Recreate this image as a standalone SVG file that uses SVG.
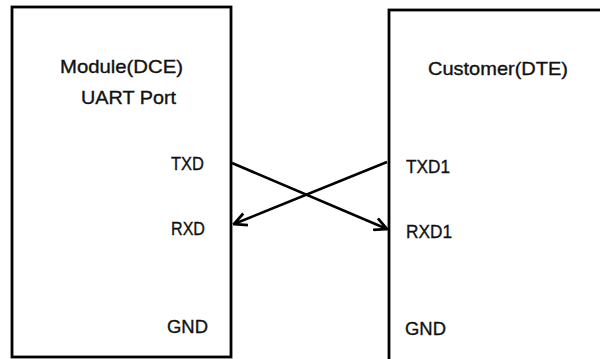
<svg xmlns="http://www.w3.org/2000/svg" width="600" height="359" viewBox="0 0 600 359">
<defs>
<style>
.box{fill:#fff;stroke:#000;stroke-width:2.8}
.t{font-family:"Liberation Sans",Arial,sans-serif;font-size:19px;fill:#111;stroke:#111;stroke-width:0.35}
.c{stroke:#000;stroke-width:2.6;fill:none}
</style>
<marker id="ah" viewBox="0 0 12 12" refX="11" refY="6" markerWidth="15" markerHeight="15" markerUnits="userSpaceOnUse" orient="auto">
<path d="M1,1 L11,6 L1,11" fill="none" stroke="#000" stroke-width="2.2"/>
</marker>
</defs>
<rect width="600" height="359" fill="#fff"/>
<g id="module">
<rect class="box" x="12" y="7" width="219" height="350"/>
<text class="t" x="60" y="73" textLength="123" lengthAdjust="spacingAndGlyphs">Module(DCE)</text>
<text class="t" x="81" y="104" textLength="95" lengthAdjust="spacingAndGlyphs">UART Port</text>
<text class="t" x="171" y="170" textLength="33" lengthAdjust="spacingAndGlyphs">TXD</text>
<text class="t" x="171" y="235" textLength="34" lengthAdjust="spacingAndGlyphs">RXD</text>
<text class="t" x="167" y="333" textLength="41" lengthAdjust="spacingAndGlyphs">GND</text>
</g>
<g id="customer">
<rect class="box" x="389" y="10" width="220" height="360"/>
<text class="t" x="428" y="75" textLength="140" lengthAdjust="spacingAndGlyphs">Customer(DTE)</text>
<text class="t" x="406" y="173" textLength="44" lengthAdjust="spacingAndGlyphs">TXD1</text>
<text class="t" x="406" y="238" textLength="46" lengthAdjust="spacingAndGlyphs">RXD1</text>
<text class="t" x="405" y="335" textLength="41" lengthAdjust="spacingAndGlyphs">GND</text>
</g>
<g id="connectors">
<line class="c" x1="232" y1="163" x2="387" y2="229" marker-end="url(#ah)"/>
<line class="c" x1="387" y1="162" x2="234" y2="224" marker-end="url(#ah)"/>
</g>
</svg>
